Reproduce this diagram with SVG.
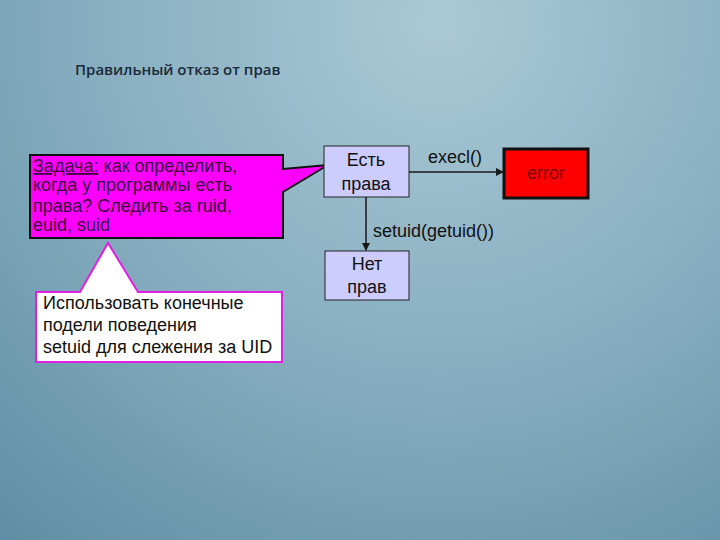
<svg xmlns="http://www.w3.org/2000/svg" width="720" height="540" viewBox="0 0 720 540">
<defs>
<radialGradient id="bg" cx="440" cy="20" r="720" gradientUnits="userSpaceOnUse">
<stop offset="0" stop-color="#abc9d6"/>
<stop offset="0.5" stop-color="#86adbf"/>
<stop offset="1" stop-color="#5a8aa0"/>
</radialGradient>
<marker id="ah" markerWidth="8" markerHeight="8" refX="7" refY="4" orient="auto" markerUnits="userSpaceOnUse">
<path d="M0,0 L8,4 L0,8 z" fill="#1a1a1a"/>
</marker>
<style>
.t{font-family:"Liberation Sans",Arial,sans-serif;font-size:18px;fill:#111}
.box{fill:#ccccff;stroke:#222;stroke-width:1}
.c{stroke:#1a1a1a;stroke-width:1.5;fill:none;marker-end:url(#ah)}
</style>
</defs>
<rect width="720" height="540" fill="url(#bg)"/>
<text x="75" y="75" style="font-family:'Open Sans','Noto Sans',sans-serif;font-size:15px;font-weight:600;fill:#1a2a38">Правильный отказ от прав</text>

<g id="task">
<path d="M30,155 H283 V169 L328,165 L283,192 V238 H30 Z" fill="#ff00ff" stroke="#111" stroke-width="2"/>
<text class="t" style="fill:#3a0a3a"><tspan x="33" y="172"><tspan text-decoration="underline">Задача:</tspan> как определить,</tspan><tspan x="33" y="191">когда у программы есть</tspan><tspan x="33" y="212">права? Следить за ruid,</tspan><tspan x="33" y="231">euid, suid</tspan></text>
</g>

<g id="note">
<path d="M36,292 H80 L108,243 L138,292 H282 V362 H36 Z" fill="#ffffff" stroke="#e020e0" stroke-width="2"/>
<text class="t"><tspan x="43" y="309">Использовать конечные</tspan><tspan x="43" y="331">подели поведения</tspan><tspan x="43" y="353">setuid для слежения за UID</tspan></text>
</g>

<g id="yes">
<rect class="box" x="324" y="146" width="85" height="51"/>
<text class="t" text-anchor="middle"><tspan x="366" y="166">Есть</tspan><tspan x="366" y="190">права</tspan></text>
</g>

<g id="no">
<rect class="box" x="325" y="251" width="84" height="49"/>
<text class="t" text-anchor="middle"><tspan x="367" y="270">Нет</tspan><tspan x="367" y="293">прав</tspan></text>
</g>

<g id="error">
<rect x="504" y="149" width="84" height="49" fill="#ff0000" stroke="#111" stroke-width="3"/>
<text class="t" x="546" y="179" text-anchor="middle" style="fill:#7a0000">error</text>
</g>

<g id="connectors">
<line class="c" x1="409" y1="172" x2="503" y2="172"/>
<line class="c" x1="366" y1="197" x2="366" y2="250"/>
<text class="t" x="428" y="163">execl()</text>
<text class="t" x="373" y="237">setuid(getuid())</text>
</g>
</svg>
